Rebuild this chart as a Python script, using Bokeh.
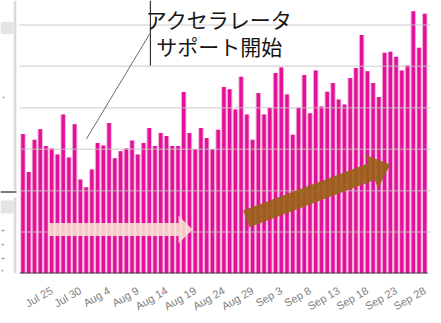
import math

from bokeh.plotting import figure
from bokeh.layouts import row
from bokeh.models import Range1d, FixedTicker
from bokeh.core.properties import value
from bokeh.embed import file_html
from bokeh.resources import INLINE

# Daily sessions, Jul 20 .. Sep 28 (one bar per day)
days = list(range(71))
counts = [337, 245, 323, 348, 308, 302, 287, 384, 280, 360,
          227, 208, 251, 315, 309, 363, 278, 295, 302, 321,
          287, 315, 351, 308, 339, 332, 308, 308, 438, 339,
          300, 351, 327, 300, 347, 450, 445, 396, 475, 384,
          323, 436, 384, 400, 484, 497, 432, 335, 400, 479,
          387, 490, 403, 439, 460, 420, 408, 472, 496, 576,
          488, 460, 426, 533, 535, 523, 490, 502, 633, 545, 627]

# every fifth day is labelled (Jul 20 sits under the neighbouring panel)
tick_days = [5, 10, 15, 20, 25, 30, 35, 40, 45, 50, 55, 60, 65, 70]
tick_labels = ["Jul 25", "Jul 30", "Aug 4", "Aug 9", "Aug 14",
               "Aug 19", "Aug 24", "Aug 29", "Sep 3", "Sep 8", "Sep 13",
               "Sep 18", "Sep 23", "Sep 28"]
grid_levels = [100, 200, 300, 400, 500, 600]

callout_lines = ["アクセラレータ", "サポート開始"]

# ---- geometry of the main panel ------------------------------------------
W, H = 422, 323
BOTTOM = 50
X0, X1 = -0.61, 72.91
Y0, Y1 = 0, 659
KX = W / (X1 - X0)              # pixels per day
KY = (H - BOTTOM) / (Y1 - Y0)   # pixels per count


def block_arrow(x0, y0, x1, y1, shaft_px, head_w_px, head_len_px):
    """Block arrow outline from (x0, y0) to the tip (x1, y1), sizes in pixels."""
    ax, ay = x0 * KX, y0 * KY
    bx, by = x1 * KX, y1 * KY
    dx, dy = bx - ax, by - ay
    length = math.hypot(dx, dy)
    ux, uy = dx / length, dy / length
    nx, ny = -uy, ux
    s, h = shaft_px / 2, head_w_px / 2
    cx, cy = bx - ux * head_len_px, by - uy * head_len_px
    pts = [(ax + nx * s, ay + ny * s), (cx + nx * s, cy + ny * s),
           (cx + nx * h, cy + ny * h), (bx, by),
           (cx - nx * h, cy - ny * h), (cx - nx * s, cy - ny * s),
           (ax - nx * s, ay - ny * s)]
    return [q[0] / KX for q in pts], [q[1] / KY for q in pts]


p = figure(width=W, height=H, x_range=Range1d(X0, X1), y_range=Range1d(Y0, Y1),
           toolbar_location=None, output_backend="svg", y_axis_location=None,
           min_border_left=0, min_border_right=0, min_border_top=0,
           min_border_bottom=BOTTOM)
p.outline_line_color = None
p.xgrid.visible = False
p.ygrid.visible = False
p.background_fill_color = "white"

# bars: soft pink halo with a magenta core
p.vbar(x=days, top=counts, width=0.95, bottom=0, fill_color="#f5b0d8",
       line_color=None)
p.vbar(x=days, top=counts, width=0.6, bottom=0, fill_color="#e3109a",
       line_color=None)

# horizontal grid, drawn over the bars
grid_end = 71.0
p.segment(x0=[X0] * len(grid_levels), y0=grid_levels,
          x1=[grid_end] * len(grid_levels), y1=grid_levels,
          line_color="#c4c4c4", line_alpha=0.6, line_width=1.5)

# baseline
p.segment(x0=[X0], y0=[0], x1=[70.5], y1=[0], line_color="#3c3f4c",
          line_width=2)

# trend arrows
ax_, ay_ = block_arrow(4.44, 106, 29.53, 106, 13, 28, 14)
p.patch(ax_, ay_, fill_color="#fbe0d2", fill_alpha=0.88, line_color=None)
bx_, by_ = block_arrow(38.9, 132, 64.0, 263, 18, 36, 20)
p.patch(bx_, by_, fill_color="#9a6218", fill_alpha=0.92, line_color=None)

# callout
p.segment(x0=[22.2], y0=[Y1], x1=[22.2], y1=[502], line_color="#333333",
          line_width=1.2)
p.segment(x0=[22.1], y0=[579], x1=[11.06], y1=[325], line_color="#6a6a6a",
          line_width=1)
p.text(x=[34.2, 34.2], y=[615, 549], text=callout_lines,
       text_align="center", text_baseline="middle",
       text_font=value("Noto Sans CJK JP"), text_font_size="21px",
       text_color="#151515")

# date axis
xa = p.xaxis[0]
xa.ticker = FixedTicker(ticks=tick_days)
xa.major_label_overrides = {d: lab for d, lab in zip(tick_days, tick_labels)}
xa.major_label_orientation = math.pi / 6
xa.major_label_text_font = "Liberation Sans"
xa.major_label_text_font_size = "11px"
xa.major_label_text_color = "#808080"
xa.major_label_standoff = 10
xa.axis_line_color = None
xa.major_tick_line_color = None
xa.minor_tick_line_color = None

# narrow neighbouring panel on the left (its frame lines up with the chart's)
FH = H - BOTTOM
side = figure(width=19, height=H, x_range=Range1d(0, 19), y_range=Range1d(FH, 0),
              toolbar_location=None, output_backend="svg",
              x_axis_location=None, y_axis_location=None,
              min_border_left=0, min_border_right=0, min_border_top=0,
              min_border_bottom=0)
side.outline_line_color = None
side.xgrid.visible = False
side.ygrid.visible = False
side.quad(left=[0, 0], right=[13, 13], top=[21.5, 200], bottom=[33.5, 213],
          fill_color="#e4e4e4", line_color=None)
side.segment(x0=[14.6, 14.6], y0=[0, 197], x1=[14.6, 14.6], y1=[190, FH],
             line_color="#dadada", line_width=2.5)
side.segment(x0=[0], y0=[191.5], x1=[16], y1=[191.5], line_color="#4a5560",
             line_width=1.6)
side.segment(x0=[2, 1, 1, 1, 1], y0=[97, 230, 244, 258, 270],
             x1=[4, 4, 3.5, 4, 3], y1=[97, 230, 244, 258, 270],
             line_color="#a0a0a0", line_width=1.5)

layout = row(side, p)
open("out.html", "w").write(file_html(layout, INLINE))
